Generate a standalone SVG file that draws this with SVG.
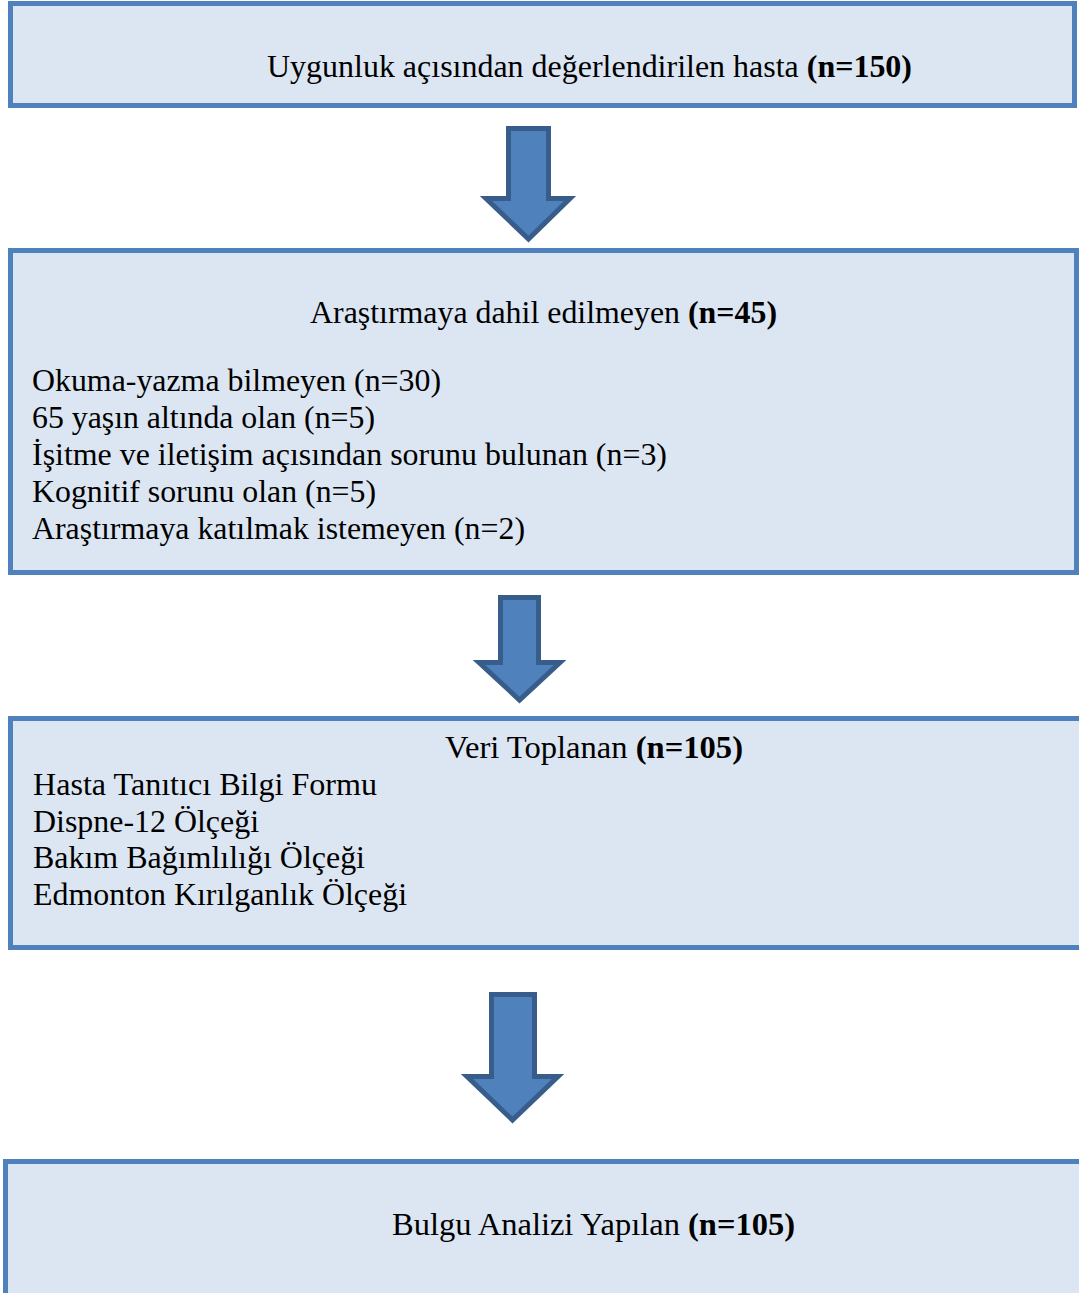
<svg xmlns="http://www.w3.org/2000/svg" width="1079" height="1293" viewBox="0 0 1079 1293">
<style>
.box{fill:#dce6f2;stroke:#4f81bd;stroke-width:5}
.arrow{fill:#4f81bd;stroke:#385d8a;stroke-width:5;stroke-linejoin:miter}
text{font-family:"Liberation Serif","Times New Roman",serif;font-size:32px;fill:#000}
.b{font-weight:bold}
</style>
<rect width="1079" height="1293" fill="#ffffff"/>
<g id="node1">
<rect class="box" x="10.5" y="3.5" width="1064" height="102"/>
<text x="267" y="77" textLength="645" lengthAdjust="spacingAndGlyphs">Uygunluk açısından değerlendirilen hasta <tspan class="b">(n=150)</tspan></text>
</g>
<g id="node2">
<rect class="box" x="10.5" y="250.5" width="1066" height="322"/>
<text x="310" y="323" textLength="467" lengthAdjust="spacingAndGlyphs">Araştırmaya dahil edilmeyen <tspan class="b">(n=45)</tspan></text>
<text x="32" y="391" textLength="409" lengthAdjust="spacingAndGlyphs">Okuma-yazma bilmeyen (n=30)</text>
<text x="32" y="428" textLength="343" lengthAdjust="spacingAndGlyphs">65 yaşın altında olan (n=5)</text>
<text x="32" y="465" textLength="635" lengthAdjust="spacingAndGlyphs">İşitme ve iletişim açısından sorunu bulunan (n=3)</text>
<text x="32" y="502" textLength="344" lengthAdjust="spacingAndGlyphs">Kognitif sorunu olan (n=5)</text>
<text x="32" y="539" textLength="493" lengthAdjust="spacingAndGlyphs">Araştırmaya katılmak istemeyen (n=2)</text>
</g>
<g id="node3">
<rect class="box" x="10.5" y="718.5" width="1080" height="229"/>
<text x="445" y="758" textLength="298" lengthAdjust="spacingAndGlyphs">Veri Toplanan <tspan class="b">(n=105)</tspan></text>
<text x="33" y="795" textLength="344" lengthAdjust="spacingAndGlyphs">Hasta Tanıtıcı Bilgi Formu</text>
<text x="33" y="832" textLength="226" lengthAdjust="spacingAndGlyphs">Dispne-12 Ölçeği</text>
<text x="33" y="868" textLength="332" lengthAdjust="spacingAndGlyphs">Bakım Bağımlılığı Ölçeği</text>
<text x="33" y="905" textLength="374" lengthAdjust="spacingAndGlyphs">Edmonton Kırılganlık Ölçeği</text>
</g>
<g id="node4">
<rect class="box" x="5.5" y="1161.5" width="1085" height="140"/>
<text x="392" y="1235" textLength="403" lengthAdjust="spacingAndGlyphs">Bulgu Analizi Yapılan <tspan class="b">(n=105)</tspan></text>
</g>
<g id="connectors">
<path class="arrow" d="M508.5,128.5 H548.5 V198.5 H570 L528.5,239 L486,198.5 H508.5 Z"/>
<path class="arrow" d="M500.5,597.5 H538.5 V662.5 H560 L519.5,700 L479,662.5 H500.5 Z"/>
<path class="arrow" d="M491.5,994.5 H534.5 V1076.5 H558 L512.5,1120 L467,1076.5 H491.5 Z"/>
</g>
</svg>
